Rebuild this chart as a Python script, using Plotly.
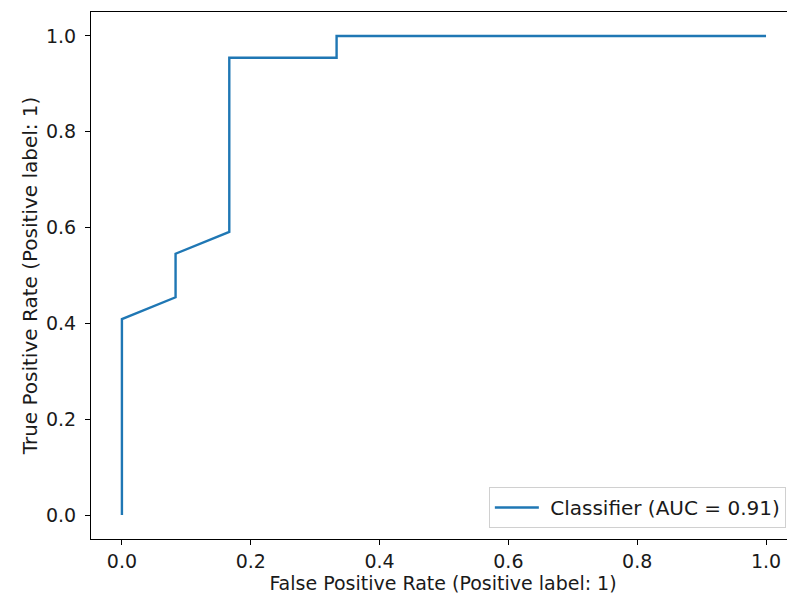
import plotly.graph_objects as go

fpr = [0.0, 0.0, 0.0833, 0.0833, 0.1667, 0.1667, 0.3333, 0.3333, 1.0]
tpr = [0.0, 0.4091, 0.4545, 0.5455, 0.5909, 0.9545, 0.9545, 1.0, 1.0]
series_name = "Classifier (AUC = 0.91)"
tick_vals = [0.0, 0.2, 0.4, 0.6, 0.8, 1.0]
tick_text = ["0.0", "0.2", "0.4", "0.6", "0.8", "1.0"]

FONT = "DejaVu Sans"

fig = go.Figure()
fig.add_trace(go.Scatter(x=fpr, y=tpr, mode="lines", name="&nbsp;" + series_name,
                         line=dict(color="#1f77b4", width=2.4)))

fig.update_layout(
    width=787, height=592,
    margin=dict(l=83, r=0, t=4, b=61),
    plot_bgcolor="white", paper_bgcolor="white",
    font=dict(family=FONT, size=19, color="#1a1a1a"),
    showlegend=True,
    legend=dict(x=0.987, y=0.021, xanchor="right", yanchor="bottom",
                bgcolor="white", bordercolor="#d0d0d0", borderwidth=1,
                itemwidth=44,
                font=dict(family=FONT, size=20)),
)
fig.update_xaxes(
    range=[-0.048, 1.045], tickvals=tick_vals, ticktext=tick_text,
    showgrid=False, zeroline=False, showline=True, linecolor="black", linewidth=1,
    mirror=True, ticks="outside", ticklen=5, tickcolor="black",
    tickfont=dict(family=FONT, size=19),
    title=dict(text="False Positive Rate (Positive label: 1)",
               font=dict(family=FONT, size=19), standoff=4),
)
fig.update_yaxes(
    range=[-0.05, 1.05], tickvals=tick_vals, ticktext=tick_text,
    showgrid=False, zeroline=False, showline=True, linecolor="black", linewidth=1,
    ticks="outside", ticklen=5, tickcolor="black", ticklabelstandoff=5,
    tickfont=dict(family=FONT, size=19),
    title=dict(text="True Positive Rate (Positive label: 1)",
               font=dict(family=FONT, size=20), standoff=2),
)

fig.write_html("out.html")
